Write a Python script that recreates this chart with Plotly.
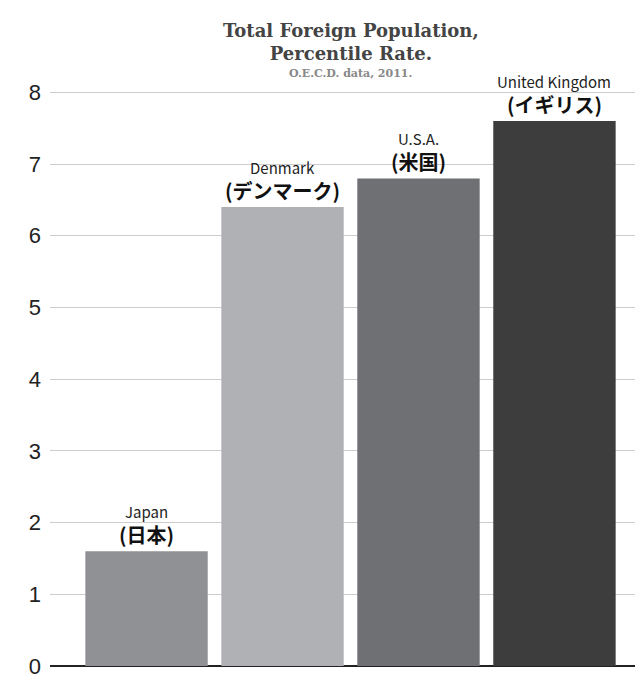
import plotly.graph_objects as go

countries = ["Japan", "Denmark", "U.S.A.", "United Kingdom"]
countries_ja = ["(日本)", "(デンマーク)", "(米国)", "(イギリス)"]
rates = [1.6, 6.4, 6.8, 7.6]
bar_colors = ["#909195", "#b0b1b4", "#6f7074", "#3d3d3d"]

fig = go.Figure(go.Bar(x=list(range(len(countries))), y=rates,
                       marker=dict(color=bar_colors, line=dict(width=0)),
                       width=0.9, hoverinfo="skip"))

for i, (en, ja, v) in enumerate(zip(countries, countries_ja, rates)):
    fig.add_annotation(x=i, y=v, yshift=27, text=en, showarrow=False, yanchor="bottom",
                       font=dict(family="Noto Sans CJK JP", size=15, color="#222"))
    fig.add_annotation(x=i, y=v, yshift=0, text="<b>" + ja + "</b>", showarrow=False, yanchor="bottom",
                       font=dict(family="Noto Sans CJK JP", size=20, color="#111"))

fig.add_annotation(xref="paper", yref="paper", x=0.5, y=1, yshift=12, showarrow=False,
                   text="<b>Total Foreign Population,<br>Percentile Rate.</b>",
                   font=dict(family="DejaVu Serif", size=18, color="#444"), yanchor="bottom")
fig.add_annotation(xref="paper", yref="paper", x=0.5, y=1, yshift=-4, showarrow=False,
                   text="<b>O.E.C.D. data, 2011.</b>",
                   font=dict(family="DejaVu Serif", size=11, color="#888"), yanchor="bottom")

fig.update_layout(
    width=643, height=694, margin=dict(l=42, r=0, t=70, b=36),
    plot_bgcolor="white", paper_bgcolor="white", showlegend=False,
    xaxis=dict(range=[-0.71, 3.71], showticklabels=False, showgrid=False, zeroline=False,
               showline=False),
    yaxis=dict(range=[0, 8.2], dtick=1, showgrid=True, gridcolor="#cccccc", gridwidth=1,
               zeroline=True, zerolinecolor="#222", zerolinewidth=1.5,
               tickfont=dict(family="Liberation Sans", size=22, color="#222"), ticklabelstandoff=8),
)
fig.write_html("out.html")
